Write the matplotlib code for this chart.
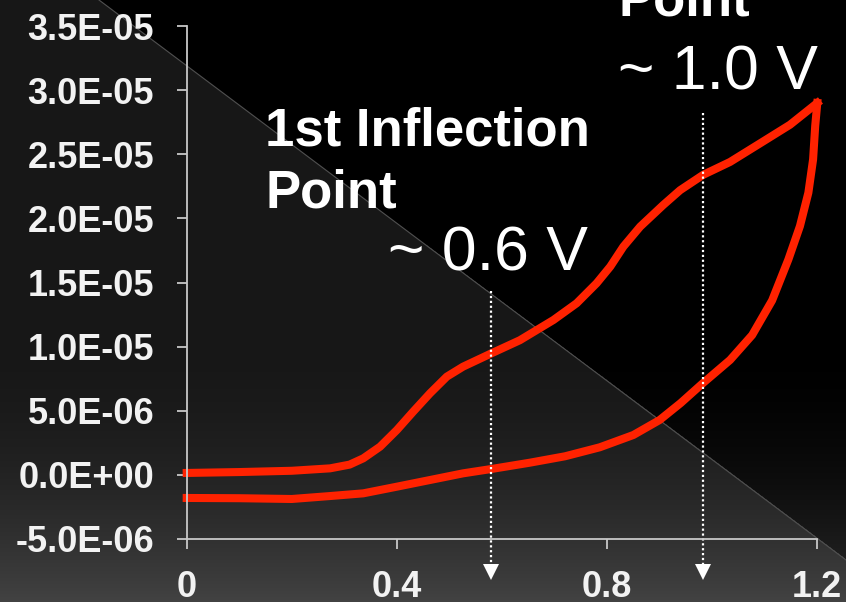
import numpy as np
import matplotlib
matplotlib.use("Agg")
import matplotlib.pyplot as plt

# Cyclic voltammogram, potential (V) vs current (A)
# forward scan (upper branch)
fwd_v = [0.0, 0.1, 0.2, 0.273, 0.31, 0.336, 0.368, 0.40, 0.431, 0.463, 0.495,
         0.526, 0.58, 0.634, 0.698, 0.742, 0.78, 0.806, 0.831, 0.863, 0.907,
         0.939, 0.983, 1.034, 1.097, 1.148, 1.2]
fwd_i = [0.15e-6, 0.22e-6, 0.32e-6, 0.51e-6, 0.8e-6, 1.29e-6, 2.2e-6, 3.5e-6,
         4.93e-6, 6.36e-6, 7.66e-6, 8.44e-6, 9.48e-6, 10.5e-6, 12.08e-6,
         13.38e-6, 14.94e-6, 16.24e-6, 17.8e-6, 19.36e-6, 21.05e-6, 22.2e-6,
         23.4e-6, 24.4e-6, 26.0e-6, 27.3e-6, 29.0e-6]

# reverse scan (lower branch)
rev_v = [1.2, 1.196, 1.192, 1.183, 1.167, 1.145, 1.114, 1.076, 1.034, 0.982,
         0.94, 0.90, 0.85, 0.786, 0.72, 0.653, 0.58, 0.526, 0.463, 0.40, 0.336,
         0.273, 0.2, 0.1, 0.0]
rev_i = [29.0e-6, 27.2e-6, 24.6e-6, 22.0e-6, 19.4e-6, 16.8e-6, 13.6e-6,
         10.9e-6, 8.96e-6, 7.14e-6, 5.6e-6, 4.28e-6, 3.11e-6, 2.15e-6, 1.45e-6,
         0.95e-6, 0.46e-6, 0.12e-6, -0.40e-6, -0.92e-6, -1.44e-6, -1.65e-6,
         -1.88e-6, -1.82e-6, -1.8e-6]

x_ticks = [0, 0.4, 0.8, 1.2]
x_tick_labels = ["0", "0.4", "0.8", "1.2"]
y_ticks = [-5e-6, 0, 5e-6, 1e-5, 1.5e-5, 2e-5, 2.5e-5, 3e-5, 3.5e-5]
y_tick_labels = ["-5.0E-06", "0.0E+00", "5.0E-06", "1.0E-05", "1.5E-05",
                 "2.0E-05", "2.5E-05", "3.0E-05", "3.5E-05"]

# inflection point markers (dotted arrows)
inflection_v = [0.58, 0.983]
arrow_top_i = [1.43e-5, 2.82e-5]

W, H = 846, 602
plt.rcParams["font.family"] = ["Liberation Sans", "DejaVu Sans"]

fig = plt.figure(figsize=(W / 100, H / 100), dpi=100)

# background: dark grey lower-left triangle, black upper-right, brightening to the bottom
rows, cols = np.mgrid[0:H, 0:W]
lower_left = rows > 0.749 * (cols - 99)
grey = np.where(lower_left, 23.0, 0.0) + 5.9e-4 * np.clip(rows - 330, 0, None) ** 2
grey = np.clip(grey, 0, 255) / 255.0
img = np.dstack([grey, grey, grey])

bg = fig.add_axes([0, 0, 1, 1], zorder=0)
bg.imshow(img, extent=[0, 1, 0, 1], aspect="auto", interpolation="nearest")
bg.plot([99 / W, 1], [1, 1 - 560 / H], color="#505050", lw=0.8)
bg.set_xlim(0, 1)
bg.set_ylim(0, 1)
bg.axis("off")

ax = fig.add_axes([186.7 / W, 63 / H, 630.6 / W, 513 / H], zorder=1)
ax.set_facecolor("none")

red = "#ff2200"
ax.plot(fwd_v, fwd_i, color=red, lw=5.8, solid_joinstyle="round", clip_on=False)
ax.plot(rev_v, rev_i, color=red, lw=5.8, solid_joinstyle="round", clip_on=False)

# dotted arrows down to the x axis
for v, top in zip(inflection_v, arrow_top_i):
    ax.plot([v, v], [top, -7.0e-6], color="white", lw=1.6,
            linestyle=(0, (1, 1.2)), clip_on=False)
    ax.plot([v], [-7.6e-6], marker="v", color="white", ms=11, mew=0,
            clip_on=False)

ax.set_xlim(0, 1.2)
ax.set_ylim(-5e-6, 3.5e-5)
ax.set_xticks(x_ticks)
ax.set_xticklabels(x_tick_labels)
ax.set_yticks(y_ticks)
ax.set_yticklabels(y_tick_labels)

for side in ["top", "right"]:
    ax.spines[side].set_visible(False)
for side in ["left", "bottom"]:
    ax.spines[side].set_color("#c8c8c8")
    ax.spines[side].set_linewidth(1.3)

ax.tick_params(axis="both", colors="#c8c8c8", length=7.5, width=1.3,
               direction="out")
ax.tick_params(axis="y", pad=16, labelsize=26, labelcolor="#f2f2f2")
ax.tick_params(axis="x", pad=15, labelsize=26, labelcolor="#f2f2f2")
for lab in ax.get_xticklabels() + ax.get_yticklabels():
    lab.set_fontweight("bold")

# annotations
fig.text(265 / W, 1 - 145 / H, "1st Inflection", color="white",
         fontsize=38, fontweight="bold", va="baseline")
fig.text(265 / W, 1 - 208 / H, "Point", color="white",
         fontsize=38, fontweight="bold", va="baseline")
fig.text(388 / W, 1 - 270.7 / H, "~ 0.6 V", color="white",
         fontsize=45, va="baseline")
fig.text(618 / W, 1 - 15 / H, "Point", color="white",
         fontsize=38, fontweight="bold", va="baseline")
fig.text(618 / W, 1 - 89.3 / H, "~ 1.0 V", color="white",
         fontsize=45, va="baseline")

fig.savefig("out.png", dpi=100)
